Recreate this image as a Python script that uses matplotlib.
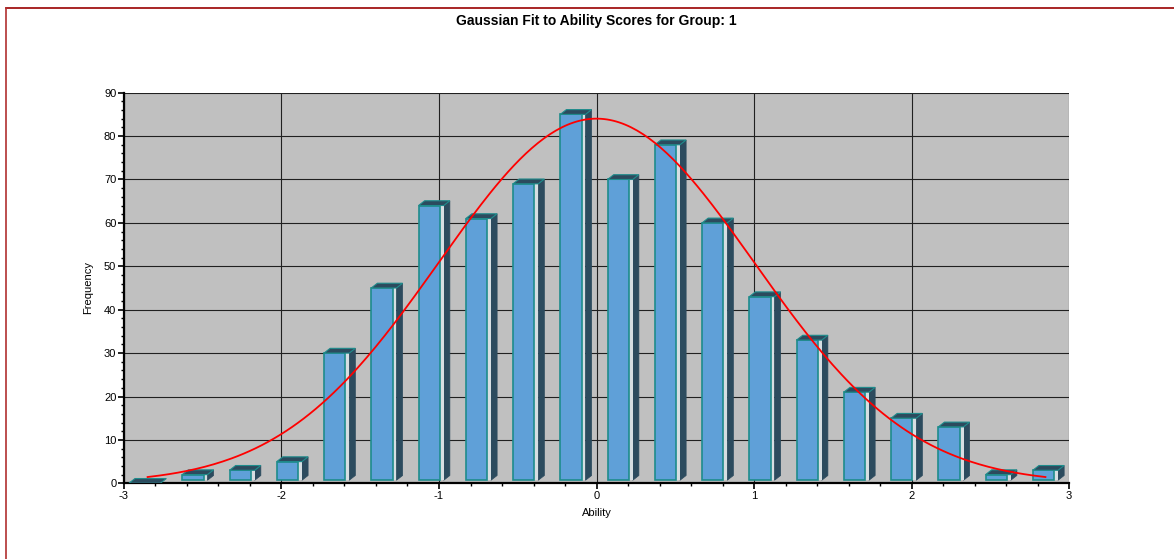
import numpy as np
import matplotlib
matplotlib.use("Agg")
import matplotlib.pyplot as plt
from matplotlib.patches import Rectangle, Polygon
from matplotlib.lines import Line2D
from matplotlib.ticker import MultipleLocator

plt.rcParams['font.family'] = ['Liberation Sans', 'DejaVu Sans']
plt.rcParams['axes.unicode_minus'] = False

# histogram of ability scores (bin centres, counts)
bin_centres = [-2.85, -2.55, -2.25, -1.95, -1.65, -1.35, -1.05, -0.75, -0.45, -0.15,
               0.15, 0.45, 0.75, 1.05, 1.35, 1.65, 1.95, 2.25, 2.55, 2.85]
counts = [0, 2, 3, 5, 30, 45, 64, 61, 69, 85, 70, 78, 60, 43, 33, 21, 15, 13, 2, 3]
bin_width = 0.3

# gaussian fit parameters
fit_mean = 0.0
fit_sd = 1.0

front_col = '#5FA0D8'
edge_col = '#1E8C8C'
dark_col = '#2C4B5E'
strip_col = '#D6DEE2'

fig = plt.figure(figsize=(11.74, 5.59), dpi=100)
ax = fig.add_axes([0.1056, 0.1354, 0.805, 0.6988])
ax.set_facecolor('#C0C0C0')
ax.set_xlim(-3, 3)
ax.set_ylim(0, 90)

# small white floor strip under the plot area
ax.axhspan(0, 0.35, color='white', zorder=0.5, lw=0)

# 3d-looking bars
base = 0.7
half = 0.08
front_end = 0.055
dx = 0.039
dy = 1.1
for c, h in zip(bin_centres, counts):
    x0 = c - half
    x1 = c + front_end
    x2 = c + half
    top = max(h, base)
    if h > 0:
        ax.add_patch(Polygon([(x2, base), (x2 + dx, base + dy), (x2 + dx, top + dy), (x2, top)],
                             closed=True, facecolor=dark_col, edgecolor=dark_col, lw=0.5, zorder=2))
        ax.add_patch(Rectangle((x1, base), x2 - x1, top - base, facecolor=strip_col,
                               edgecolor='none', zorder=2))
        ax.add_patch(Rectangle((x0, base), x1 - x0, top - base, facecolor=front_col,
                               edgecolor=edge_col, lw=1.2, zorder=3))
        ax.add_patch(Polygon([(x0, top), (x0 + dx, top + dy), (x2 + dx, top + dy), (x2, top)],
                             closed=True, facecolor=dark_col, edgecolor=edge_col, lw=0.8, zorder=3))
    else:
        ax.add_patch(Polygon([(x0 - dx, 0), (x0, dy), (x2 + dx, dy), (x2, 0)],
                             closed=True, facecolor=dark_col, edgecolor=edge_col, lw=0.8, zorder=3))

# gaussian curve scaled to counts
n_total = sum(counts)
xs = np.linspace(bin_centres[0], bin_centres[-1], 300)
ys = n_total * bin_width / (np.sqrt(2 * np.pi) * fit_sd) * np.exp(-0.5 * ((xs - fit_mean) / fit_sd) ** 2)
ax.plot(xs, ys, color='red', lw=1.3, zorder=4)

ax.xaxis.set_major_locator(MultipleLocator(1))
ax.xaxis.set_minor_locator(MultipleLocator(0.2))
ax.yaxis.set_major_locator(MultipleLocator(10))
ax.yaxis.set_minor_locator(MultipleLocator(2))
ax.grid(True, which='major', color='#202020', lw=0.8, zorder=1)
ax.set_axisbelow(True)

ax.spines['top'].set_visible(False)
ax.spines['right'].set_visible(False)
ax.spines['left'].set_linewidth(1.6)
ax.spines['bottom'].set_linewidth(1.6)
ax.tick_params(which='major', length=4, width=1.2, labelsize=8, pad=1.5, colors='black')
ax.tick_params(which='minor', length=2.5, width=1.0)

ax.set_xlabel('Ability', fontsize=8, labelpad=5)
ax.set_ylabel('Frequency', fontsize=8, labelpad=8)
fig.text(0.508, 0.963, 'Gaussian Fit to Ability Scores for Group: 1', ha='center', va='center',
         fontsize=10, fontweight='bold')

# dark red frame lines
fig.add_artist(Line2D([6 / 1174, 1.0], [1 - 8 / 559, 1 - 8 / 559], color='#990000', lw=1.2))
fig.add_artist(Line2D([6 / 1174, 6 / 1174], [0, 1 - 8 / 559], color='#B03030', lw=1.2))

fig.savefig('out.png', dpi=100)
